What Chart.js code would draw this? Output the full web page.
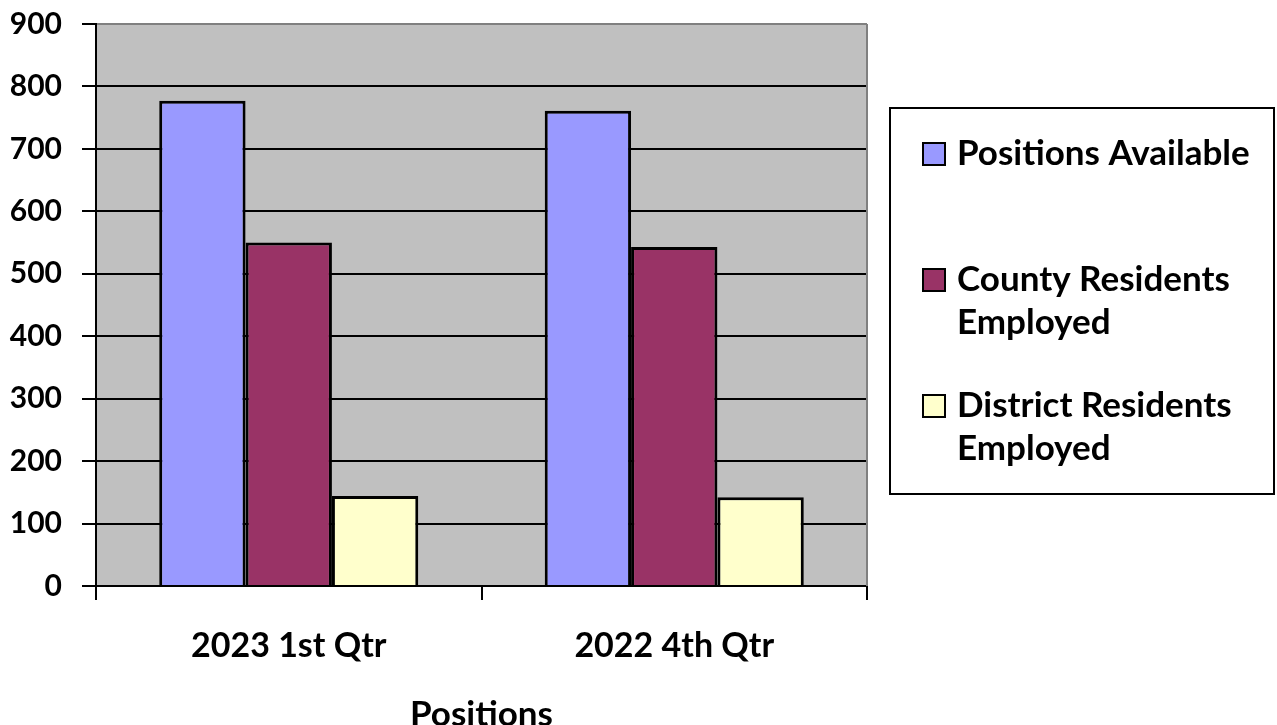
<!DOCTYPE html>
<html>
<head>
<meta charset="utf-8">
<script src="https://cdn.jsdelivr.net/npm/chart.js@4/dist/chart.umd.min.js"></script>
<style>
  html, body { margin: 0; padding: 0; background: #ffffff; }
  #wrap { width: 1277px; height: 725px; position: relative; }
</style>
</head>
<body>
<div id="wrap"><canvas id="positionsChart"></canvas></div>
<script>
// Quarterly positions data
const categories = ['2023 1st Qtr', '2022 4th Qtr'];
const positionsAvailable = [777, 761];
const countyEmployed = [550, 543];
const districtEmployed = [144, 142];
const seriesNames = ['Positions Available', 'County Residents Employed', 'District Residents Employed'];
const legendLines = [['Positions Available'], ['County Residents', 'Employed'], ['District Residents', 'Employed']];
const yTicks = [0, 100, 200, 300, 400, 500, 600, 700, 800, 900];

const FONT = "Lato, 'Open Sans', sans-serif";
const seriesColors = ['#9999ff', '#993366', '#ffffcc'];

// Grey plot background plus the right-hand frame line
const plotFrame = {
    id: 'plotFrame',
    beforeDraw(chart) {
        const { ctx, chartArea: a } = chart;
        ctx.save();
        ctx.fillStyle = '#c0c0c0';
        ctx.fillRect(a.left, a.top, a.right - a.left, a.bottom - a.top);
        ctx.restore();
    },
    beforeDatasetsDraw(chart) {
        const { ctx, chartArea: a } = chart;
        ctx.save();
        ctx.strokeStyle = '#808080';
        ctx.lineWidth = 2;
        ctx.beginPath();
        ctx.moveTo(a.right, a.top);
        ctx.lineTo(a.right, a.bottom);
        ctx.stroke();
        ctx.restore();
    },
};

// Boxed legend on the right with wrapped labels
const boxLegend = {
    id: 'boxLegend',
    afterDraw(chart) {
        const { ctx } = chart;
        const boxX = 890, boxY = 108, boxW = 384, boxH = 386;
        ctx.save();
        ctx.strokeStyle = '#000';
        ctx.lineWidth = 2;
        ctx.strokeRect(boxX, boxY, boxW, boxH);

        ctx.font = 'bold 35px ' + FONT;
        ctx.textBaseline = 'middle';
        ctx.textAlign = 'left';
        const itemTops = [154, 280, 406];
        chart.data.datasets.forEach((ds, i) => {
            const cy = itemTops[i];
            ctx.fillStyle = ds.backgroundColor;
            ctx.fillRect(923, cy - 11, 22, 22);
            ctx.strokeStyle = '#000';
            ctx.lineWidth = 2;
            ctx.strokeRect(923, cy - 11, 22, 22);
            ctx.fillStyle = '#000';
            legendLines[i].forEach((line, j) => {
                ctx.fillText(line, 957, cy + j * 43);
            });
        });
        ctx.restore();
    },
};

const ctx = document.getElementById('positionsChart');

new Chart(ctx, {
    type: 'bar',
    data: {
        labels: categories,
        datasets: [
            { label: seriesNames[0], data: positionsAvailable, backgroundColor: seriesColors[0] },
            { label: seriesNames[1], data: countyEmployed, backgroundColor: seriesColors[1] },
            { label: seriesNames[2], data: districtEmployed, backgroundColor: seriesColors[2] },
        ].map(ds => Object.assign(ds, {
            borderColor: '#000',
            borderWidth: 3,
            barPercentage: 1,
            categoryPercentage: 0.672,
        })),
    },
    options: {
        responsive: true,
        maintainAspectRatio: false,
        animation: false,
        devicePixelRatio: 1,
        layout: {
            padding: { top: 24, right: 410, bottom: 0, left: 0 },
        },
        plugins: {
            legend: { display: false },
            tooltip: { enabled: false },
        },
        scales: {
            x: {
                afterFit(scale) { scale.height = 139; },
                border: { color: '#000', width: 2 },
                grid: {
                    offset: true,
                    drawOnChartArea: false,
                    drawTicks: true,
                    tickLength: 14,
                    color: '#000',
                    lineWidth: 2,
                },
                ticks: {
                    color: '#000',
                    padding: 26,
                    font: { family: FONT, size: 34, weight: 'bold' },
                },
                title: {
                    display: true,
                    text: 'Positions',
                    color: '#000',
                    padding: { top: 0, bottom: -11 },
                    font: { family: FONT, size: 35, weight: 'bold' },
                },
            },
            y: {
                min: 0,
                max: 900,
                afterFit(scale) {
                    scale.width = 96;
                    // let the layout padding decide where the plot starts
                    scale.paddingTop = 0;
                    scale.paddingBottom = 0;
                },
                afterBuildTicks(scale) {
                    scale.ticks = yTicks.map(v => ({ value: v }));
                },
                border: { color: '#000', width: 2 },
                grid: {
                    color: c => (c.tick && c.tick.value === 900 ? '#808080' : '#000'),
                    tickColor: '#000',
                    lineWidth: 2,
                    tickLength: 14,
                },
                ticks: {
                    color: '#000',
                    padding: 20,
                    font: { family: FONT, size: 30, weight: 'bold' },
                },
            },
        },
    },
    plugins: [plotFrame, boxLegend],
});
</script>
</body>
</html>
